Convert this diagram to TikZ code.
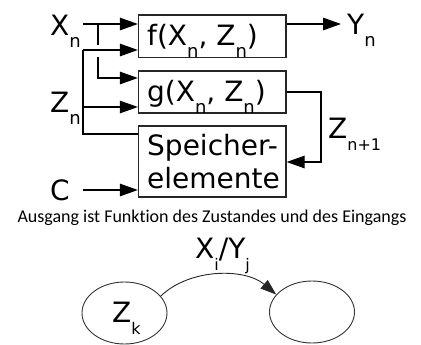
\documentclass[tikz,border=0pt]{standalone}
\usepackage{fontspec}
\setmainfont{DejaVu Sans}
\newfontfamily\capfont[Ligatures=NoCommon]{Carlito}
\usetikzlibrary{arrows.meta,shapes.geometric}
\newcommand\sbx[1]{\raisebox{-12bp}{\fontsize{18bp}{18bp}\selectfont #1}}
\newcommand\sbs[1]{\raisebox{-12bp}{\fontsize{16bp}{16bp}\selectfont #1}}
\begin{document}
\begin{tikzpicture}[x=1bp,y=-1bp,
  box/.style={draw=black!85, line width=1.3bp, minimum width=147.5bp, inner sep=0pt},
  lbl/.style={anchor=base west, inner sep=0pt, font=\fontsize{28bp}{33bp}\selectfont},
  arr/.style={-{Triangle[length=18bp,width=12.5bp]}},
  ln/.style={line width=1.3bp},
  ell/.style={draw=black!80, ellipse, line width=0.9bp, minimum width=85bp, minimum height=62bp, inner sep=0pt}]
\useasboundingbox (0,0) rectangle (421,345);
% boxes
\node[box, minimum height=42.5bp] (f) at (212.25,36.25) {};
\node[box, minimum height=42bp] (g) at (212.25,92) {};
\node[box, minimum height=71bp] (s) at (212.25,161.5) {};
\node[lbl] (ft) at (147,45) {f(X\sbx{n}, Z\sbx{n})};
\node[lbl] (gt) at (147,101) {g(X\sbx{n}, Z\sbx{n})};
\node[lbl] (st1) at (147,155) {Speicher-};
\node[lbl] (st2) at (147,188) {elemente};
% labels
\node[lbl] (xl) at (50,35) {X\sbx{n}};
\node[lbl] (zl) at (50,112) {Z\sbx{n}};
\node[lbl] (cl) at (50,200) {C};
\node[lbl] (yl) at (347,34) {Y\sbx{n}};
\node[lbl] (znl) at (328,138) {Z\sbs{n+1}};
% coordinates
\coordinate (xs) at (83,24);
\coordinate (xb) at (98,24);
\coordinate (xg1) at (98,45);
\coordinate (xg2) at (98,57);
\coordinate (xg) at (98,78);
\coordinate (zt) at (83,50);
\coordinate (zm) at (83,107);
\coordinate (zb) at (83,134);
\coordinate (cs) at (83,190);
\coordinate (yt) at (341,24);
\coordinate (gc1) at (321,92);
\coordinate (gc2) at (321,162);
% connectors
\draw[ln,arr] (xs) -- (xs -| f.west);
\draw[ln] (xb) -- (xg1);
\draw[ln,arr] (xg2) -- (xg) -- (xg -| g.west);
\draw[ln,arr] (zt) -- (zt -| f.west);
\draw[ln] (zt) -- (zb) -- (zb -| s.west);
\draw[ln,arr] (zm) -- (zm -| g.west);
\draw[ln,arr] (cs) -- (cs -| s.west);
\draw[ln,arr] (xs -| f.east) -- (yt);
\draw[ln,arr] (g.east |- gc1) -- (gc1) -- (gc2) -- (gc2 -| s.east);
% caption
\node[anchor=base, inner sep=0pt, font=\capfont\fontsize{18bp}{18bp}\selectfont] (cap) at (212,222) {Ausgang ist Funktion des Zustandes und des Eingangs};
% state diagram
\node[ell] (e1) at (124.5,313) {};
\node[ell] (e2) at (312,312) {};
\node[lbl] (zk) at (112,322) {Z\sbs{k}};
\draw[line width=0.9bp, draw=black!85, -{Triangle[length=16bp,width=11bp]}] (e1.25) .. controls (190,268) and (245,268) .. (e2.154);
\node[lbl] (xy) at (195,258) {X\sbs{i}/Y\sbs{j}};
\end{tikzpicture}
\end{document}
